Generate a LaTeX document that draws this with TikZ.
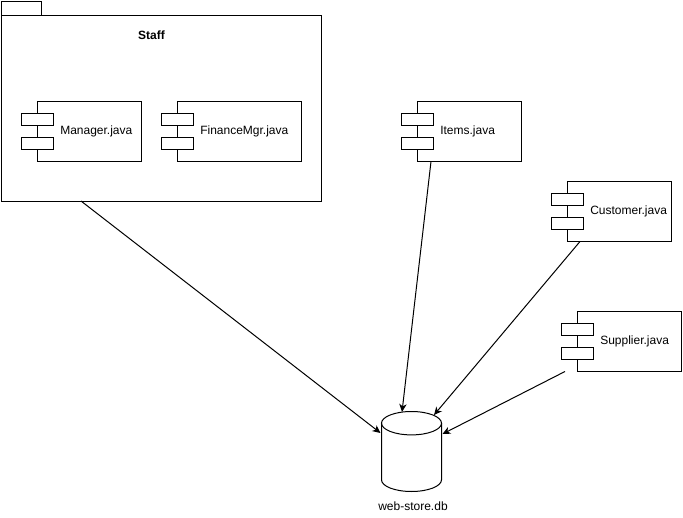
\documentclass[tikz,border=0pt]{standalone}
\usepackage{fontspec}
\setmainfont{Liberation Sans}
\usetikzlibrary{arrows.meta,calc,fit}
% UML component: #1 name, #2 left, #3 top, #4 right, #5 bottom, #6 label
\newcommand\umlcomp[6]{%
  \node[box, fit={(#2,#3) (#4,#5)}] (#1) {};
  \node[portbox] (#1-p1) at ($(#1.north west)+(-16,12)$) {};
  \node[portbox] (#1-p2) at ($(#1.north west)+(-16,36)$) {};
  \node[lbl] (#1-t) at ($(#1.west)+(22.5,0)$) {#6};
}
\begin{document}
\begin{tikzpicture}[x=0.75pt,y=-0.75pt,
  line/.style={draw=black, line width=0.75pt},
  box/.style={line, fill=white, rectangle, inner sep=0pt, outer sep=0pt},
  portbox/.style={box, minimum width=24pt, minimum height=9pt, anchor=north west},
  lbl/.style={font=\fontsize{9}{11}\selectfont, inner sep=0pt, anchor=west},
  dep/.style={line, -{Stealth[length=6pt,width=5.5pt,inset=1.8pt]}},
]
\useasboundingbox (0,0) rectangle (683,518);

% package "Staff"
\node[box, fit={(1.5,1.5) (41.5,15)}] (tab) {};
\node[box, fit={(1.5,15) (321.5,201)}] (staff) {};
\node[font=\bfseries\fontsize{9}{11}\selectfont, inner sep=0pt] (stafft) at (151.5,35) {Staff};

% components
\umlcomp{man}{37.5}{101.5}{141.5}{161.5}{Manager.java}
\umlcomp{fin}{177.5}{101.5}{301.5}{161.5}{FinanceMgr.java}
\umlcomp{items}{417.5}{101.5}{521.5}{161.5}{Items.java}
\umlcomp{cust}{567.5}{181.5}{671.5}{241.5}{Customer.java}
\umlcomp{supp}{577.5}{311.5}{681.5}{371.5}{Supplier.java}

% database cylinder
\node[inner sep=0pt, outer sep=0pt, fit={(381.5,411.5) (441.5,491.5)}] (db) {};
\draw[line] (411.5,423.2) ellipse [x radius=30, y radius=11.7];
\draw[line] (381.5,423.2) -- (381.5,479.8)
  arc[start angle=180, end angle=0, x radius=30, y radius=11.7] -- (441.5,423.2);
\node[lbl, anchor=center] (dbt) at (413,506.5) {web-store.db};

% arrow targets on the cylinder
\coordinate (inS) at (380.5,433);
\coordinate (inI) at (402,412);
\coordinate (inC) at (434,415);
\coordinate (inP) at (442.5,434);

% dependencies
\draw[dep] ($(staff.south west)+(79.5,0)$) -- (inS);
\draw[dep] ($(items.south west)+(13.5,0)$) -- (inI);
\draw[dep] ($(cust.south west)+(12.5,0)$) -- (inC);
\draw[dep] ($(supp.south west)+(-12.5,0)$) -- (inP);
\end{tikzpicture}
\end{document}
